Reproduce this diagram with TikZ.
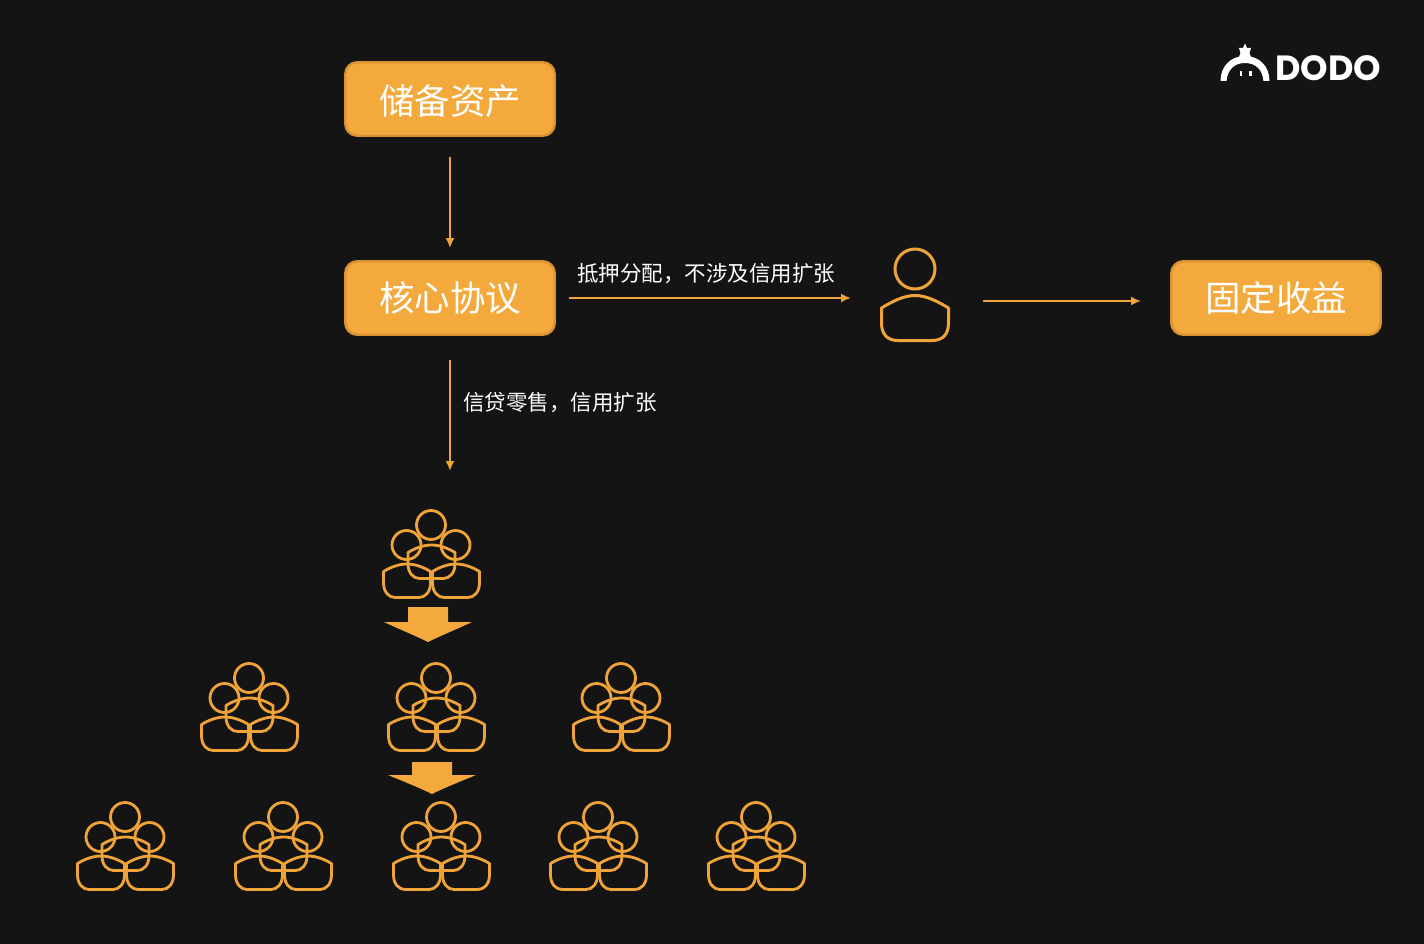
\documentclass[tikz,border=0pt]{standalone}
\usepackage{fontspec}
\setmainfont{Noto Sans CJK SC}
\newfontfamily\cnlight{Noto Sans CJK SC}
\newfontfamily\logofont{Poppins Bold}
\usetikzlibrary{arrows.meta}
\definecolor{bgdark}{HTML}{141414}
\definecolor{amber}{HTML}{F3A93C}
\definecolor{amberedge}{HTML}{D8922F}
\definecolor{amberline}{HTML}{EFA338}
\tikzset{
  x=1pt,y=-1pt,
  box/.style={draw=amberedge,line width=2.4pt,fill=amber,rounded corners=12pt,
    minimum width=209.5pt,minimum height=73.5pt,inner sep=0pt,text=white,
    font=\cnlight\fontsize{35.5}{35.5}\selectfont},
  arr/.style={draw=amberline,line width=1.8pt,-{Latex[length=10pt,width=9pt]}},
  lbl/.style={text=white,inner sep=0pt,font=\cnlight\fontsize{21.5}{21.5}\selectfont},
  figline/.style={draw=amberline,line width=3pt,line join=round},
  crowdline/.style={draw=amberline,line width=2.8pt,line join=round},
  bigdown/.style={fill=amber,draw=none},
  % one head and shoulders; the origin is the middle of the head
  solo/.pic={
    \draw[figline] (0,0) circle (20);
    \draw[figline] (-33.5,39) .. controls (-22,32) and (-11,26.5) .. (0,26.5)
      .. controls (11,26.5) and (22,32) .. (33.5,39) -- (33.5,54)
      .. controls (33.5,66) and (27,71.5) .. (17,71.5) -- (-17,71.5)
      .. controls (-27,71.5) and (-33.5,66) .. (-33.5,54) -- cycle;
  },
  % shoulders only, for the crowd figure; the origin is the top centre
  crowdbody/.pic={
    \draw[crowdline] (-23.5,7.5) .. controls (-16,3) and (-8,0) .. (0,0)
      .. controls (8,0) and (16,3) .. (23.5,7.5) -- (23.5,19)
      .. controls (23.5,28) and (18,33.5) .. (12,33.5) -- (-12,33.5)
      .. controls (-18,33.5) and (-23.5,28) .. (-23.5,19) -- cycle;
  },
  % group of three heads over three shoulders; the origin is the top head
  crowd/.pic={
    \draw[crowdline] (0,0) circle (14.5);
    \draw[crowdline] (-24.5,20) circle (14.5);
    \draw[crowdline] (24.5,20) circle (14.5);
    \pic at (0.5,20) {crowdbody};
    \pic at (-24,39) {crowdbody};
    \pic at (25,39) {crowdbody};
  },
}
\begin{document}
\begin{tikzpicture}
\useasboundingbox (0,0) rectangle (1424,944);
\fill[bgdark] (0,0) rectangle (1424,944);

% main boxes
\node[box,text height=34pt,text depth=3pt] (reserve) at (450,99) {储备资产};
\node[box] (core) at (450,298) {核心协议};
\node[box] (fixed) at (1276,298) {固定收益};

% single holder
\pic at (915,269) {solo};
\coordinate (holderin) at (881,298);
\coordinate (holderout) at (949,301);
\coordinate (fixedin) at (1170,301);

% free end of the retail arrow
\coordinate (retail) at (450,510);

% connectors
\draw[arr,shorten <=20pt,shorten >=12pt] (reserve.south) -- (core.north);
\draw[arr,shorten <=13pt,shorten >=30pt] (core.east) -- (holderin);
\draw[arr,shorten <=34pt,shorten >=29pt] (holderout) -- (fixedin);
\draw[arr,shorten <=24pt,shorten >=39pt] (core.south) -- (retail);

% connector labels
\node[lbl,anchor=west] (lblcollateral) at (577,273.5) {抵押分配，不涉及信用扩张};
\node[lbl,anchor=west] (lblretail) at (463,402.5) {信贷零售，信用扩张};

% pyramid of groups
\pic at (431,525) {crowd};
\foreach \cx in {249,436,621} \pic at (\cx,678) {crowd};
\foreach \cx in {125,283,441,598,756} \pic at (\cx,817) {crowd};

% block arrows between the tiers
\fill[bigdown] (408,607) -- (448,607) -- (448,622) -- (472,622)
  .. controls (455,630) and (440,636) .. (428,642)
  .. controls (416,636) and (401,630) .. (384,622) -- (408,622) -- cycle;
\fill[bigdown] (412,762) -- (452,762) -- (452,775) -- (476,775)
  .. controls (459,782) and (444,788) .. (432,794)
  .. controls (420,788) and (405,782) .. (388,775) -- (412,775) -- cycle;

% logo
\fill[white] (1220.5,81) .. controls (1220.5,66) and (1231,56) .. (1245,56)
  .. controls (1259,56) and (1269.5,66) .. (1269.5,81) -- (1263.5,81)
  .. controls (1262.5,70) and (1256,63) .. (1245,63)
  .. controls (1234,63) and (1227.5,70) .. (1226.5,81) -- cycle;
\fill[white] (1245,43.5) -- (1247,48) -- (1251,48) -- (1249.5,53) -- (1251,57)
  -- (1239,57) -- (1240.5,53) -- (1239,48) -- (1243,48) -- cycle;
\fill[white] (1239.5,71) rectangle (1242,76);
\fill[white] (1249,71) rectangle (1251.5,76);
\node[text=white,inner sep=0pt,anchor=west,font=\logofont\fontsize{35}{35}\selectfont] (logo) at (1275,68.5) {DODO};
\end{tikzpicture}
\end{document}
